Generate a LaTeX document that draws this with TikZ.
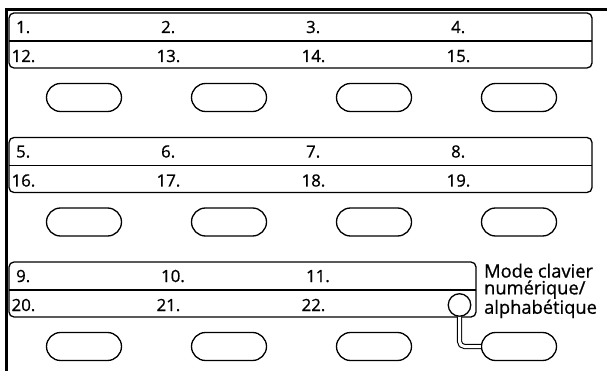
\documentclass[tikz,border=0pt]{standalone}
\usepackage{fontspec}
\setmainfont{Open Sans}[RawFeature={embolden=0.8}]
\usetikzlibrary{positioning}
\tikzset{
  every picture/.style={line width=1.3pt},
  frame/.style={line width=3pt},
  panel/.style={draw, rounded corners=5pt},
  key/.style={draw, rounded corners=14pt, minimum width=75pt, minimum height=28pt, inner sep=0pt},
  num/.style={anchor=base west, inner sep=0pt, font=\fontsize{16.8}{19}\selectfont},
  lamp/.style={draw, circle, minimum size=22.5pt, inner sep=0pt},
  link/.style={double, double distance=3pt, line width=1.1pt, rounded corners=5pt},
  note/.style={anchor=north west, inner sep=0pt, align=left, font=\fontsize{18.3}{16.8}\selectfont},
}

\begin{document}
\begin{tikzpicture}[x=1pt, y=-1pt]
  \useasboundingbox (0,0) rectangle (607,371);
  \draw[frame] (6,371) -- (6,9.5) -- (607,9.5);

  % three panels with two rows each
  \draw[panel] (9,13) rectangle (592,68);
  \draw (9,41) -- (592,41);
  \draw[panel] (9,137.5) rectangle (592,192.5);
  \draw (9,165.5) -- (592,165.5);
  \draw[panel] (9,262) rectangle (476,317);
  \draw (9,290) -- (476,290);

  \foreach \r/\top/\bot/\cnt in {0/1/12/4, 1/5/16/4, 2/9/20/3} {
    \foreach \c in {1,...,\cnt} {
      \pgfmathtruncatemacro\a{\top+\c-1}
      \pgfmathtruncatemacro\b{\bot+\c-1}
      \node[num] (n\a) at ({15.5+145*(\c-1)}, {33+124.5*\r}) {\a.};
      \node[num] (n\b) at ({11+145*(\c-1)}, {62+124.5*\r}) {\b.};
    }
  }

  % keys
  \foreach \r in {0,1,2} {
    \foreach \c in {1,...,4} {
      \pgfmathtruncatemacro\k{4*\r+\c}
      \node[key] (b\k) at ({84+145*(\c-1)}, {97.5+124.5*\r}) {};
    }
  }

  \node[lamp] (sw) at (459.5,305) {};
  \draw[link] (sw.south) |- (b12.west);
  \node[note] (mode) at (483.5,263) {Mode clavier\\numérique/\\alphabétique};
\end{tikzpicture}
\end{document}
